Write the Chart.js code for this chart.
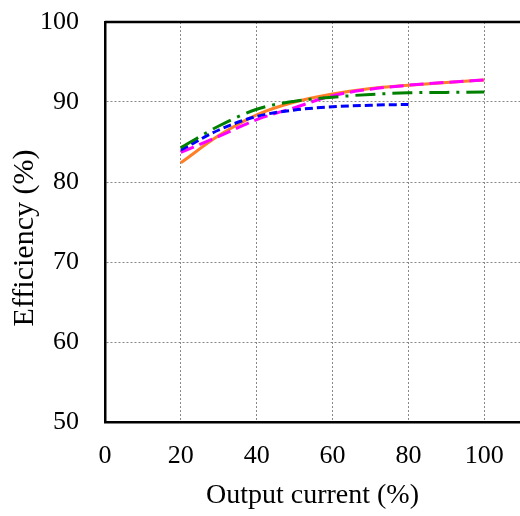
<!DOCTYPE html>
<html>
<head>
<meta charset="utf-8">
<script src="https://cdn.jsdelivr.net/npm/chart.js@4/dist/chart.umd.min.js"></script>
<style>
  html, body { margin: 0; padding: 0; background: #fff; }
  #wrap { width: 520px; height: 516px; }
</style>
</head>
<body>
<div id="wrap"><canvas id="effChart"></canvas></div>
<script>
// output current (%) sample points
var current = [20, 30, 40, 50, 60, 70, 80, 90, 100];
var currentShort = [20, 30, 40, 50, 60, 70, 80];

// efficiency (%) curves
var effSolid   = [82.4, 85.8, 88.4, 90.0, 91.0, 91.7, 92.1, 92.45, 92.75];
var effMagenta = [83.7, 85.7, 87.8, 89.3, 90.8, 91.6, 92.1, 92.45, 92.75];
var effBlue    = [84.0, 86.5, 88.2, 89.0, 89.4, 89.6, 89.7];
var effGreen   = [84.3, 87.0, 89.1, 90.1, 90.6, 90.95, 91.15, 91.2, 91.25];

var xTicks = [0, 20, 40, 60, 80, 100];
var yTicks = [50, 60, 70, 80, 90, 100];

function pts(xs, ys) {
  return xs.map(function (x, i) { return { x: x, y: ys[i] }; });
}

var serif = 'Liberation Serif, Times New Roman, serif';

// thick top frame line, plus the y title sitting a bit below the axis middle
var frameAndTitle = {
  id: 'frameAndTitle',
  afterDraw: function (chart) {
    var a = chart.chartArea, c = chart.ctx;
    c.save();
    c.strokeStyle = '#000';
    c.lineWidth = 2.5;
    c.beginPath();
    c.moveTo(a.left, a.top);
    c.lineTo(a.right, a.top);
    c.stroke();

    c.translate(25, 238);
    c.rotate(-Math.PI / 2);
    c.fillStyle = '#000';
    c.font = '30px ' + serif;
    c.textAlign = 'center';
    c.textBaseline = 'middle';
    c.fillText('Efficiency (%)', 0, 0);
    c.restore();
  }
};

var line = { fill: false, pointRadius: 0, borderWidth: 3, cubicInterpolationMode: 'monotone' };

// first dataset ends up on top
var ctx = document.getElementById('effChart').getContext('2d');
var effChart = new Chart(ctx, {
  type: 'line',
  data: {
    datasets: [
      Object.assign({ label: 'D', data: pts(current, effGreen), borderColor: '#008000', borderDash: [20, 7, 3, 7] }, line),
      Object.assign({ label: 'C', data: pts(currentShort, effBlue), borderColor: '#0000ff', borderDash: [8, 4] }, line),
      Object.assign({ label: 'B', data: pts(current, effMagenta), borderColor: '#ff00ff', borderDash: [14, 6] }, line),
      Object.assign({ label: 'A', data: pts(current, effSolid), borderColor: '#ff7f27' }, line)
    ]
  },
  options: {
    responsive: true,
    maintainAspectRatio: false,
    animation: false,
    layout: { padding: { top: 22, right: 0, left: 0, bottom: 0 } },
    plugins: { legend: { display: false }, tooltip: { enabled: false } },
    scales: {
      x: {
        type: 'linear',
        min: 0,
        max: 109.4,
        afterBuildTicks: function (s) { s.ticks = xTicks.map(function (v) { return { value: v }; }); },
        afterFit: function (s) { s.height = 94; s.paddingLeft = 0; s.paddingRight = 0; },
        ticks: { color: '#000', padding: 19, font: { family: serif, size: 26 }, maxRotation: 0 },
        grid: { color: '#888', lineWidth: 1, drawTicks: false },
        border: { color: '#000', width: 2.5, dash: [2, 2] },
        title: { display: true, text: 'Output current (%)', color: '#000', font: { family: serif, size: 28 }, padding: { top: 0, bottom: 4 } }
      },
      y: {
        min: 50,
        max: 100,
        afterBuildTicks: function (s) { s.ticks = yTicks.map(function (v) { return { value: v }; }); },
        afterFit: function (s) { s.width = 105; s.paddingTop = 0; s.paddingBottom = 0; },
        ticks: { color: '#000', padding: 26, font: { family: serif, size: 26 } },
        grid: { color: '#888', lineWidth: 1, drawTicks: false },
        border: { color: '#000', width: 2.5, dash: [2, 2] }
      }
    }
  },
  plugins: [frameAndTitle]
});
</script>
</body>
</html>
